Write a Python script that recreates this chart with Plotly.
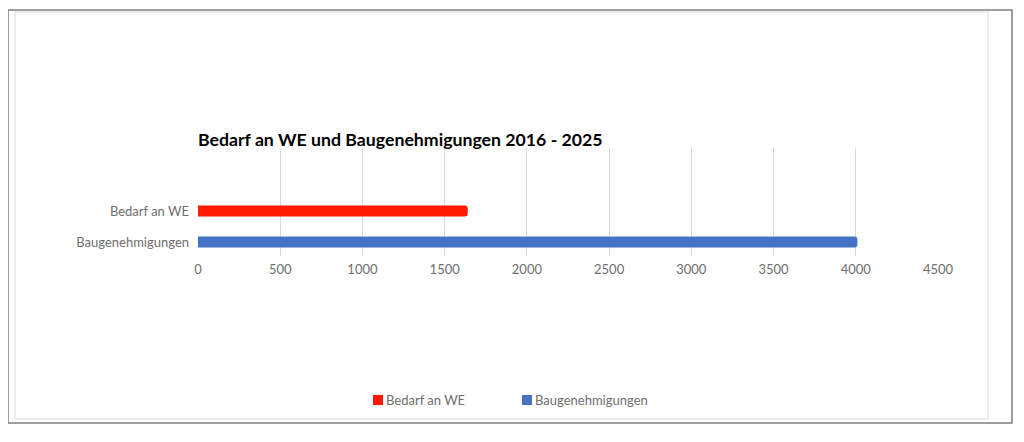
import plotly.graph_objs as go

# data
categories = ['Bedarf an WE', 'Baugenehmigungen']
values = [1640, 4010]
colors = ['#ff1a00', '#4472c4']
x_ticks = [0, 500, 1000, 1500, 2000, 2500, 3000, 3500, 4000, 4500]

# page has an 8px body margin, so work in page pixels minus 8
OFF = 8
W, H = 1024 - 2 * OFF, 442 - 2 * OFF
L, R, T, B = 198 - OFF, 938 - OFF, 148 - OFF, 256 - OFF  # plot area
TEXT_GREY = '#6e6e6e'


def px_x(x):
    return (x - OFF - L) / (R - L)


def px_y(y):
    return (B - (y - OFF)) / (B - T)


fig = go.Figure()
for cat, val, col in zip(categories, values, colors):
    fig.add_trace(go.Bar(
        x=[val], y=[cat], name=cat, orientation='h',
        marker=dict(color=col, cornerradius=3, line=dict(width=0)),
        width=0.36, showlegend=False,
    ))

# legend drawn by hand: square sits right next to its text
legend_x = [373, 522]
shapes = []
annotations = []
for cat, col, lx in zip(categories, colors, legend_x):
    shapes.append(dict(type='rect', xref='paper', yref='paper',
                       x0=px_x(lx), x1=px_x(lx + 10), y0=px_y(405), y1=px_y(395),
                       fillcolor=col, line=dict(width=0)))
    annotations.append(dict(text=cat, xref='paper', yref='paper',
                            x=px_x(lx + 11), y=px_y(400), xanchor='left', yanchor='middle',
                            showarrow=False, font=dict(size=13, color=TEXT_GREY)))

shapes += [
    # inner light frame
    dict(type='rect', xref='paper', yref='paper',
         x0=px_x(15), x1=px_x(988), y0=px_y(419), y1=px_y(12),
         line=dict(color='#e6e6e6', width=1.5), layer='below'),
    # outer dark frame
    dict(type='rect', xref='paper', yref='paper',
         x0=px_x(8), x1=px_x(1012), y0=px_y(423), y1=px_y(10),
         line=dict(color='#7f7f7f', width=1.5), layer='below'),
]

fig.update_layout(
    width=W, height=H,
    margin=dict(l=L, r=W - R, t=T, b=H - B, pad=0),
    paper_bgcolor='white', plot_bgcolor='white',
    barmode='overlay',
    font=dict(family='Lato, Open Sans, sans-serif', size=13, color=TEXT_GREY),
    title=dict(
        text='<b>Bedarf an WE und Baugenehmigungen 2016 - 2025</b>',
        font=dict(family='Lato, Open Sans, sans-serif', size=17.7, color='black'),
        xref='paper', x=0, xanchor='left',
        yref='paper', y=1, yanchor='bottom', pad=dict(b=2),
    ),
    xaxis=dict(
        range=[0, 4500], tickvals=x_ticks, showgrid=True,
        gridcolor='#d9d9d9', gridwidth=1, zeroline=False,
        showline=False, ticks='', ticklabelstandoff=4,
    ),
    yaxis=dict(
        categoryorder='array', categoryarray=['Baugenehmigungen', 'Bedarf an WE'],
        range=[-0.45, 3.03], showgrid=False, zeroline=False, showline=False,
        ticks='', ticklabelstandoff=8,
    ),
    showlegend=False,
    shapes=shapes,
    annotations=annotations,
)

fig.write_html("out.html")
